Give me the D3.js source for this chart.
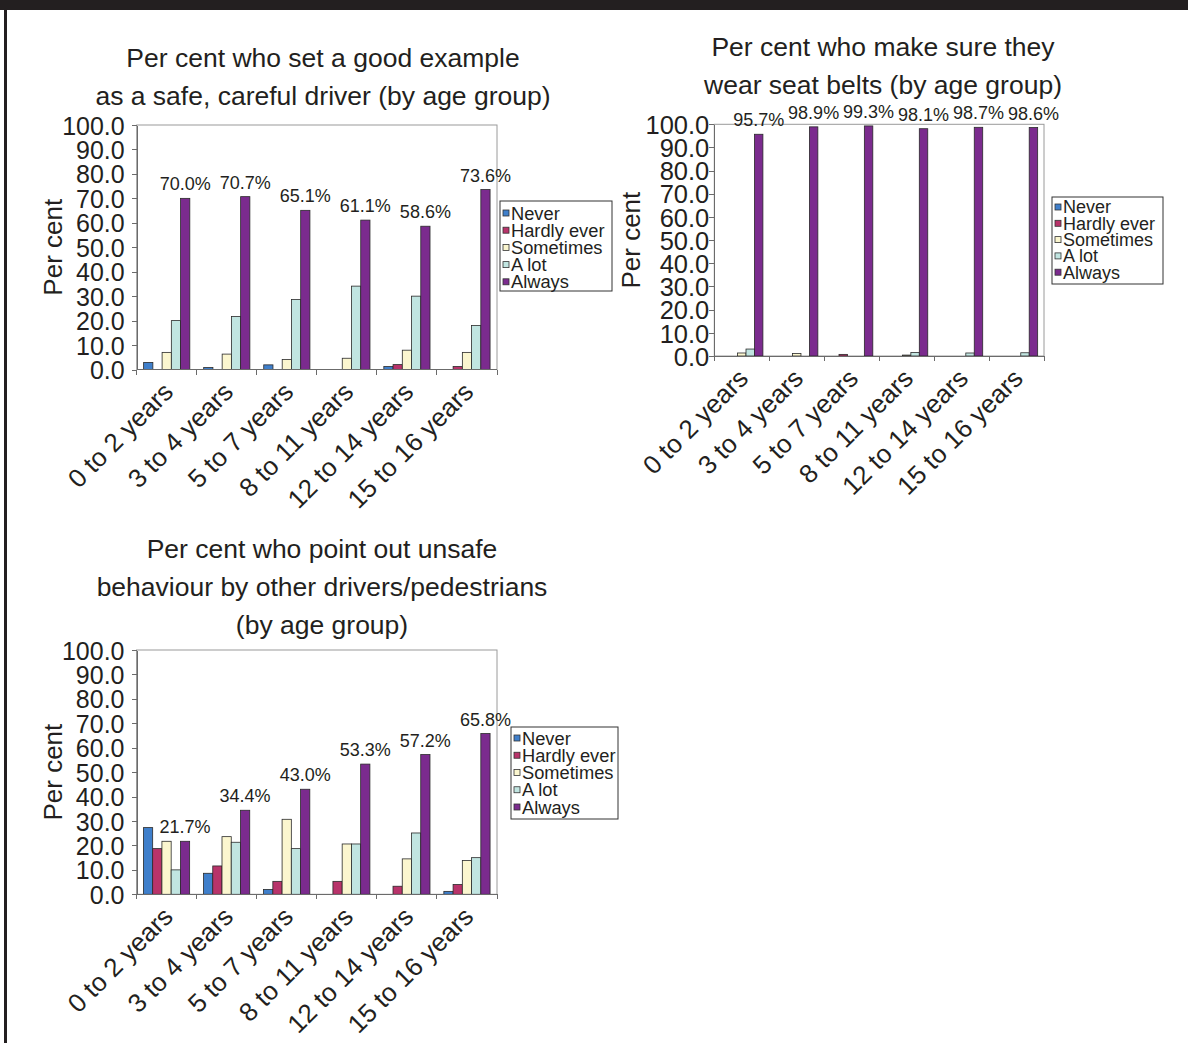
<!DOCTYPE html>
<meta charset="utf-8">
<head>
  <title>Child passenger safety by age group</title>
</head>

<style>
body {
  margin: 0;
  background: #fff;
}
text {
  font-family: Arial, "Liberation Sans", Helvetica, sans-serif;
  fill: #231f20;
}
.axis path, .axis line {
  stroke: #6b6b6b;
  shape-rendering: crispEdges;
}
.axis text {
  fill: #231f20;
}
</style>

<body>
  <svg width="1188" height="1043"></svg>

  <script src="https://cdnjs.cloudflare.com/ajax/libs/d3/7.8.5/d3.min.js"></script>
  <script>
var categories = ['0 to 2 years', '3 to 4 years', '5 to 7 years', '8 to 11 years', '12 to 14 years', '15 to 16 years'];
var seriesNames = ['Never', 'Hardly ever', 'Sometimes', 'A lot', 'Always'];
var seriesColors = ['#3f7fcb', '#b8336a', '#fbf6cf', '#c1e5e1', '#7b2b8e'];
var yTicks = [0, 10, 20, 30, 40, 50, 60, 70, 80, 90, 100];

// set a good example as a safe, careful driver
var exampleNever      = [2.9, 0.8, 1.9, 0, 1.2, 0];
var exampleHardlyEver = [0, 0, 0, 0, 2.0, 1.2];
var exampleSometimes  = [7.0, 6.3, 4.1, 4.6, 7.9, 7.0];
var exampleALot       = [20.0, 21.7, 28.6, 34.1, 30.0, 18.0];
var exampleAlways     = [70.0, 70.7, 65.1, 61.1, 58.6, 73.6];

// make sure they wear seat belts
var seatbeltNever      = [0, 0, 0, 0, 0, 0];
var seatbeltHardlyEver = [0, 0, 0.7, 0, 0, 0];
var seatbeltSometimes  = [1.3, 1.1, 0, 0.4, 0, 0];
var seatbeltALot       = [3.0, 0, 0, 1.5, 1.3, 1.4];
var seatbeltAlways     = [95.7, 98.9, 99.3, 98.1, 98.7, 98.6];

// point out unsafe behaviour
var unsafeNever      = [27.3, 8.6, 2.0, 0, 0, 1.2];
var unsafeHardlyEver = [18.7, 11.6, 5.3, 5.3, 3.3, 4.0];
var unsafeSometimes  = [21.7, 23.6, 30.7, 20.6, 14.5, 13.8];
var unsafeALot       = [10.0, 21.3, 18.7, 20.6, 25.1, 15.0];
var unsafeAlways     = [21.7, 34.4, 43.0, 53.3, 57.2, 65.8];

var svg = d3.select('svg');

// page frame
svg.append('rect').attr('x', 0).attr('y', 0).attr('width', 1188).attr('height', 10).attr('fill', '#231f20');
svg.append('rect').attr('x', 4).attr('y', 0).attr('width', 3).attr('height', 1043).attr('fill', '#231f20');

function drawChart(cfg) {
  var g = svg.append('g');

  var x0 = d3.scaleBand().domain(categories).range([cfg.left, cfg.right]);
  var inset = x0.bandwidth() * 0.75 / 6.5;
  var x1 = d3.scaleBand().domain(seriesNames).range([inset, x0.bandwidth() - inset]);
  var color = d3.scaleOrdinal().domain(seriesNames).range(seriesColors);
  var y = d3.scaleLinear().domain([0, 100]).range([cfg.bottom, cfg.top]);

  // plot frame
  g.append('rect')
    .attr('x', cfg.left).attr('y', cfg.top)
    .attr('width', cfg.right - cfg.left).attr('height', cfg.bottom - cfg.top)
    .attr('fill', 'none').attr('stroke', '#9a9a9a');

  var table = categories.map(function(c, i) {
    return {
      cat: c,
      values: cfg.series.map(function(s, j) { return {name: seriesNames[j], value: s[i]}; })
    };
  });

  var groups = g.selectAll('g.cat')
    .data(table)
    .enter()
    .append('g')
    .attr('class', 'cat')
    .attr('transform', function(d) { return 'translate(' + x0(d.cat) + ',0)'; });

  groups.selectAll('rect')
    .data(function(d) { return d.values.filter(function(v) { return v.value > 0; }); })
    .enter()
    .append('rect')
    .attr('x', function(d) { return x1(d.name); })
    .attr('y', function(d) { return y(d.value); })
    .attr('width', x1.bandwidth())
    .attr('height', function(d) { return y(0) - y(d.value); })
    .attr('fill', function(d) { return color(d.name); })
    .attr('stroke', '#2a2a2a')
    .attr('stroke-width', 0.8);

  // value labels over the "Always" bars
  groups.append('text')
    .attr('x', x1('Always') + x1.bandwidth() / 2)
    .attr('y', function(d) { return y(d.values[4].value) - 8; })
    .attr('text-anchor', 'middle')
    .style('font-size', '18px')
    .text(function(d) { return d3.format('.1f')(d.values[4].value) + '%'; });

  // y axis
  g.append('g')
    .attr('class', 'axis')
    .attr('transform', 'translate(' + cfg.left + ',0)')
    .call(d3.axisLeft(y).tickValues(yTicks).tickFormat(d3.format('.1f'))
      .tickSize(5).tickSizeOuter(0).tickPadding(cfg.tickPad))
    .selectAll('text')
    .style('font-size', cfg.tickFont)
    .attr('dy', '0.36em');

  // x axis line with ticks between categories
  var xa = g.append('g').attr('class', 'axis');
  xa.append('line')
    .attr('x1', cfg.left).attr('x2', cfg.right)
    .attr('y1', cfg.bottom).attr('y2', cfg.bottom);
  xa.selectAll('line.tick')
    .data(categories.concat(['end']))
    .enter()
    .append('line')
    .attr('class', 'tick')
    .attr('x1', function(d) { return d === 'end' ? cfg.right : x0(d); })
    .attr('x2', function(d) { return d === 'end' ? cfg.right : x0(d); })
    .attr('y1', cfg.bottom).attr('y2', cfg.bottom + 5);

  g.selectAll('text.xlab')
    .data(categories)
    .enter()
    .append('text')
    .attr('class', 'xlab')
    .attr('text-anchor', 'end')
    .attr('transform', function(d) {
      return 'translate(' + (x0(d) + x0.bandwidth() / 2 + 8) + ',' + (cfg.bottom + 24) + ') rotate(-45)';
    })
    .style('font-size', '26px')
    .text(function(d) { return d; });

  // y title
  g.append('text')
    .attr('transform', 'translate(' + cfg.yTitleX + ',' + ((cfg.top + cfg.bottom) / 2) + ') rotate(-90)')
    .attr('text-anchor', 'middle')
    .style('font-size', '26px')
    .text('Per cent');

  // chart title
  g.selectAll('text.title')
    .data(cfg.title)
    .enter()
    .append('text')
    .attr('class', 'title')
    .attr('x', cfg.titleX)
    .attr('y', function(d, i) { return cfg.titleY + i * 38; })
    .attr('text-anchor', 'middle')
    .style('font-size', '26.5px')
    .text(function(d) { return d; });

  // legend
  var lg = g.append('g').attr('transform', 'translate(' + cfg.legend[0] + ',' + cfg.legend[1] + ')');
  lg.append('rect')
    .attr('width', cfg.legend[2]).attr('height', cfg.legend[3])
    .attr('fill', '#fff').attr('stroke', '#333');
  var rows = lg.selectAll('g')
    .data(seriesNames)
    .enter()
    .append('g')
    .attr('transform', function(d, i) { return 'translate(0,' + (cfg.legendRow0 + i * cfg.legendStep) + ')'; });
  rows.append('rect')
    .attr('x', 3).attr('y', -3)
    .attr('width', 6).attr('height', 6)
    .attr('fill', function(d) { return color(d); })
    .attr('stroke', '#333').attr('stroke-width', 0.8);
  rows.append('text')
    .attr('x', 11)
    .attr('dy', '0.36em')
    .style('font-size', cfg.legendFont)
    .text(function(d) { return d; });
}

drawChart({
  left: 136.7, right: 497, top: 125, bottom: 369.5, tickPad: 7, tickFont: '25px',
  series: [exampleNever, exampleHardlyEver, exampleSometimes, exampleALot, exampleAlways],
  title: ['Per cent who set a good example', 'as a safe, careful driver (by age group)'],
  titleX: 323, titleY: 67, yTitleX: 62,
  legend: [500, 201, 112, 90], legendRow0: 12, legendStep: 17.2, legendFont: '18.3px'
});

drawChart({
  left: 714.3, right: 1044, top: 124.3, bottom: 356, tickPad: 0, tickFont: '25.5px',
  series: [seatbeltNever, seatbeltHardlyEver, seatbeltSometimes, seatbeltALot, seatbeltAlways],
  title: ['Per cent who make sure they', 'wear seat belts (by age group)'],
  titleX: 883, titleY: 56, yTitleX: 640,
  legend: [1052, 197, 111, 87], legendRow0: 10, legendStep: 16.3, legendFont: '18px'
});

drawChart({
  left: 136.5, right: 497, top: 650, bottom: 894.3, tickPad: 7, tickFont: '25px',
  series: [unsafeNever, unsafeHardlyEver, unsafeSometimes, unsafeALot, unsafeAlways],
  title: ['Per cent who point out unsafe', 'behaviour by other drivers/pedestrians', '(by age group)'],
  titleX: 322, titleY: 558, yTitleX: 62,
  legend: [511, 727, 107, 92], legendRow0: 11, legendStep: 17.25, legendFont: '18.3px'
});
  </script>
</body>
</html>
